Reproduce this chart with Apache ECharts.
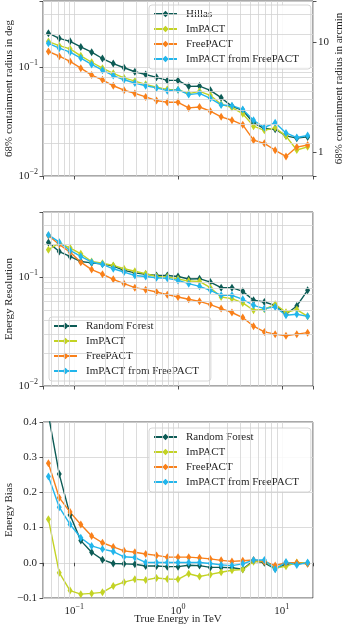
<!DOCTYPE html>
<html>
<head>
<meta charset="utf-8">
<script src="https://cdn.jsdelivr.net/npm/echarts@6/dist/echarts.min.js"></script>
<style>
  html, body { margin: 0; padding: 0; background: #fff; }
  #chart { width: 348px; height: 625px; }
</style>
</head>
<body>
<div id="chart"></div>
<script>
// bin centres in TeV (log bins 0.05 .. 20)
const energy = [0.0564, 0.0717, 0.0911, 0.1157, 0.1471, 0.187, 0.2377, 0.3021, 0.384, 0.4881, 0.6204, 0.7885, 1.0,
  1.268, 1.612, 2.049, 2.604, 3.31, 4.208, 5.348, 6.798, 8.641, 10.98, 13.96, 17.74];

// 68% containment radius, deg
const angHillas = [0.203, 0.182, 0.171, 0.152, 0.136, 0.119, 0.107, 0.098, 0.090, 0.085, 0.080, 0.075, 0.075,
  0.0662, 0.0665, 0.0608, 0.0521, 0.0434, 0.040, 0.0306, 0.0272, 0.0268, 0.0233, 0.0222, 0.0228];
const angImpact = [0.170, 0.156, 0.146, 0.126, 0.110, 0.097, 0.087, 0.079, 0.074, 0.069, 0.065, 0.0621, 0.0617,
  0.0568, 0.0596, 0.0548, 0.0454, 0.0423, 0.0372, 0.0286, 0.0262, 0.0276, 0.0232, 0.0173, 0.0185];
const angFree = [0.138, 0.125, 0.112, 0.097, 0.084, 0.076, 0.067, 0.061, 0.057, 0.053, 0.049, 0.0473, 0.0473,
  0.0420, 0.0428, 0.0392, 0.0348, 0.0324, 0.0294, 0.0213, 0.0199, 0.0172, 0.0151, 0.0184, 0.0192];
const angImpactFree = [0.164, 0.148, 0.136, 0.120, 0.105, 0.093, 0.083, 0.076, 0.071, 0.067, 0.064, 0.0604, 0.0617,
  0.0556, 0.0571, 0.0514, 0.0447, 0.044, 0.0406, 0.0324, 0.0278, 0.0308, 0.0248, 0.0225, 0.0235];

// energy resolution
const resRF = [0.209, 0.173, 0.156, 0.140, 0.136, 0.133, 0.127, 0.116, 0.110, 0.107, 0.104, 0.104, 0.102,
  0.0966, 0.0973, 0.0906, 0.0804, 0.0804, 0.0744, 0.0616, 0.0594, 0.0553, 0.0458, 0.0546, 0.0760];
const resImpact = [0.180, 0.207, 0.187, 0.165, 0.140, 0.135, 0.129, 0.120, 0.114, 0.108, 0.102, 0.101, 0.0966,
  0.0925, 0.0919, 0.0804, 0.0660, 0.0637, 0.0582, 0.0498, 0.0508, 0.0565, 0.0478, 0.0505, 0.0438];
const resFree = [0.243, 0.201, 0.171, 0.138, 0.118, 0.107, 0.0959, 0.0875, 0.0804, 0.0771, 0.0733, 0.0693, 0.0660,
  0.0629, 0.0602, 0.0562, 0.0516, 0.0475, 0.0427, 0.0355, 0.0315, 0.0300, 0.0290, 0.0300, 0.0310];
const resImpactFree = [0.246, 0.211, 0.177, 0.156, 0.138, 0.132, 0.120, 0.112, 0.104, 0.102, 0.0993, 0.098, 0.0938,
  0.0875, 0.0827, 0.0760, 0.0684, 0.0684, 0.0629, 0.0553, 0.0516, 0.0535, 0.0448, 0.0458, 0.0438];

// energy bias
const biasRF = [0.42, 0.252, 0.136, 0.063, 0.030, 0.009, -0.002, -0.003, -0.004, -0.009, -0.009, -0.011, -0.011,
  -0.007, -0.008, -0.013, -0.013, -0.014, -0.018, 0.006, 0.000, -0.017, -0.004, -0.001, -0.002];
const biasImpact = [0.124, -0.028, -0.079, -0.089, -0.087, -0.084, -0.066, -0.055, -0.047, -0.049, -0.043, -0.046, -0.047,
  -0.031, -0.039, -0.033, -0.027, -0.021, -0.019, 0.003, 0.004, -0.015, -0.010, 0.001, -0.001];
const biasFree = [0.283, 0.185, 0.144, 0.109, 0.076, 0.057, 0.045, 0.034, 0.030, 0.025, 0.021, 0.016, 0.016,
  0.016, 0.014, 0.011, 0.007, 0.004, 0.006, 0.008, 0.004, -0.008, 0.000, 0.000, -0.003];
const biasImpactFree = [0.245, 0.158, 0.109, 0.071, 0.048, 0.039, 0.032, 0.017, 0.015, 0.001, 0.001, 0.001, 0.001,
  0.001, 0.001, -0.002, -0.006, -0.008, -0.003, 0.008, 0.008, -0.018, 0.002, -0.006, 0.001];

// minor grid positions
const minorX = [0.06, 0.07, 0.08, 0.09, 0.2, 0.3, 0.4, 0.5, 0.6, 0.7, 0.8, 0.9, 2, 3, 4, 5, 6, 7, 8, 9];
const minorY = [0.02, 0.03, 0.04, 0.05, 0.06, 0.07, 0.08, 0.09, 0.2, 0.3];

const FONT = 'Liberation Serif';
const INK = '#262626';
const GRID_C = '#d3d3d3';
const C_RF = '#0d5c56', C_IMP = '#c3d324', C_FREE = '#f9801a', C_IF = '#22b6ec';

function pow10Label(v) {
  const e = Math.log10(v), n = Math.round(e);
  if (Math.abs(e - n) > 1e-6) return '';
  return '{b|10}{s|' + (n < 0 ? '\u2212' + (-n) : n) + '}';
}
const supRich = {
  b: { fontFamily: FONT, fontSize: 11, lineHeight: 16, color: INK },
  s: { fontFamily: FONT, fontSize: 8, lineHeight: 9, verticalAlign: 'top', color: INK }
};
const tick = { show: true, inside: false, length: 3.5, lineStyle: { color: INK, width: 0.8 } };
const split = { show: true, lineStyle: { color: GRID_C, width: 0.8 } };
const nameStyle = { fontFamily: FONT, fontSize: 11, color: INK };

function xAx(idx, labels) {
  return {
    type: 'log', logBase: 10, gridIndex: idx, min: 0.05, max: 20,
    axisLine: { show: false }, axisTick: tick, splitLine: split,
    axisLabel: labels ? { formatter: pow10Label, rich: supRich, margin: 5 } : { show: false },
    name: labels ? 'True Energy in TeV' : '', nameLocation: 'middle', nameGap: 16, nameMoveOverlap: false,
    nameTextStyle: nameStyle
  };
}
function yLog(idx, name) {
  return {
    type: 'log', logBase: 10, gridIndex: idx, min: 0.01, max: 0.4,
    axisLine: { show: false }, axisTick: tick, splitLine: split,
    axisLabel: { formatter: pow10Label, rich: supRich, margin: 5 },
    name, nameLocation: 'middle', nameRotate: 90, nameGap: 28, nameMoveOverlap: false,
    nameTextStyle: nameStyle
  };
}

function mk(name, vals, color, idx) {
  return {
    name, type: 'line', xAxisIndex: idx, yAxisIndex: idx, z: 3, clip: true,
    data: energy.map((e, i) => [e, vals[i]]),
    symbol: 'diamond', symbolSize: [5, 8], showAllSymbol: true,
    lineStyle: { width: 1.4, color }, itemStyle: { color }
  };
}
function gridLines(idx, ys) {
  const data = minorX.map(v => ({ xAxis: v }));
  ys.forEach(v => data.push({ yAxis: v }));
  return {
    type: 'line', xAxisIndex: idx, yAxisIndex: idx, data: [], z: 1, silent: true,
    markLine: {
      silent: true, symbol: ['none', 'none'], label: { show: false }, animation: false,
      lineStyle: { color: GRID_C, width: 0.8, type: 'solid' }, data
    }
  };
}

const legendBase = {
  orient: 'vertical', itemWidth: 23, itemHeight: 8, itemGap: 1, selectedMode: false,
  backgroundColor: 'rgba(255,255,255,0.85)', borderColor: '#cccccc', borderWidth: 0.8, borderRadius: 3,
  padding: [2, 12, 3, 4],
  textStyle: { fontFamily: FONT, fontSize: 11, color: INK, lineHeight: 14, padding: [0, 0, 0, 4] }
};
const names1 = ['Hillas', 'ImPACT', 'FreePACT', 'ImPACT from FreePACT'];
const names2 = ['Random Forest', 'ImPACT', 'FreePACT', 'ImPACT from FreePACT'];

const gridBox = {
  show: true, borderColor: INK, borderWidth: 0.8, backgroundColor: 'transparent',
  containLabel: false, outerBoundsMode: 'none'
};

const option = {
  animation: false,
  grid: [
    Object.assign({ left: 43, right: 35, top: 1, height: 175 }, gridBox),
    Object.assign({ left: 43, right: 35, top: 212, height: 174 }, gridBox),
    Object.assign({ left: 43, right: 35, top: 422, height: 176 }, gridBox)
  ],
  legend: [
    Object.assign({ data: names1, left: 149, top: 5 }, legendBase),
    Object.assign({ data: names2, left: 49, top: 317 }, legendBase),
    Object.assign({ data: names2, left: 149, top: 428 }, legendBase)
  ],
  xAxis: [xAx(0, false), xAx(1, false), xAx(2, true)],
  yAxis: [
    yLog(0, '68% containment radius in deg'),
    yLog(1, 'Energy Resolution'),
    {
      type: 'value', gridIndex: 2, min: -0.1, max: 0.4, interval: 0.1,
      axisLine: { show: false }, axisTick: tick, splitLine: split,
      axisLabel: {
        fontFamily: FONT, fontSize: 11, color: INK, margin: 6,
        formatter: v => (v < -1e-9 ? '\u2212' : '') + Math.abs(v).toFixed(1)
      },
      name: 'Energy Bias', nameLocation: 'middle', nameRotate: 90, nameGap: 28, nameMoveOverlap: false,
      nameTextStyle: nameStyle
    },
    {
      type: 'log', logBase: 10, gridIndex: 0, position: 'right', min: 0.6, max: 24,
      axisLine: { show: false }, axisTick: tick, splitLine: { show: false },
      axisLabel: {
        fontFamily: FONT, fontSize: 11, color: INK, margin: 5,
        formatter: v => {
          const e = Math.log10(v);
          return Math.abs(e - Math.round(e)) < 1e-6 ? String(Math.round(v)) : '';
        }
      },
      name: '68% containment radius in arcmin', nameLocation: 'middle', nameRotate: 90, nameGap: 21,
      nameMoveOverlap: false, nameTextStyle: nameStyle
    }
  ],
  series: [
    gridLines(0, minorY), gridLines(1, minorY), gridLines(2, []),
    mk('Hillas', angHillas, C_RF, 0),
    mk('ImPACT', angImpact, C_IMP, 0),
    mk('FreePACT', angFree, C_FREE, 0),
    mk('ImPACT from FreePACT', angImpactFree, C_IF, 0),
    mk('Random Forest', resRF, C_RF, 1),
    mk('ImPACT', resImpact, C_IMP, 1),
    mk('FreePACT', resFree, C_FREE, 1),
    mk('ImPACT from FreePACT', resImpactFree, C_IF, 1),
    mk('Random Forest', biasRF, C_RF, 2),
    mk('ImPACT', biasImpact, C_IMP, 2),
    mk('FreePACT', biasFree, C_FREE, 2),
    mk('ImPACT from FreePACT', biasImpactFree, C_IF, 2)
  ]
};

const chart = echarts.init(document.getElementById('chart'), null, { renderer: 'canvas' });
chart.setOption(option);
</script>
</body>
</html>
